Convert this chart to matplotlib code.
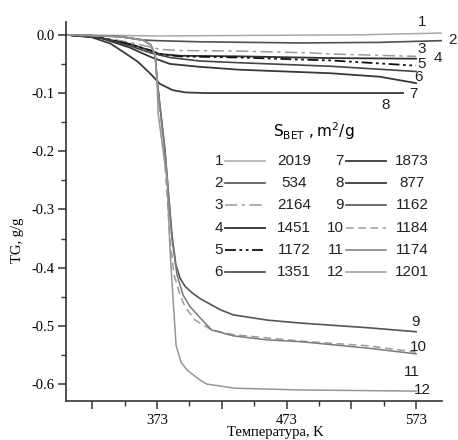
import numpy as np
import matplotlib
matplotlib.use("Agg")
from matplotlib import pyplot as plt
from matplotlib.lines import Line2D

plt.rcParams['mathtext.fontset'] = 'custom'
plt.rcParams['mathtext.rm'] = 'Liberation Sans'

# temperature (K) / mass change TG (g/g) for every sample
t1 = [303, 340, 373, 450, 530, 593]
g1 = [0.0, -0.001, -0.002, -0.001, 0.0, 0.003]
t2 = [303, 344, 363, 372, 406, 483, 545, 593]
g2 = [0.0, -0.003, -0.009, -0.010, -0.012, -0.014, -0.013, -0.010]
t3 = [303, 329, 352, 368, 375, 391, 437, 491, 507, 573]
g3 = [0.0, -0.004, -0.013, -0.021, -0.025, -0.027, -0.028, -0.031, -0.033, -0.037]
t4 = [303, 329, 352, 368, 375, 391, 437, 507, 573]
g4 = [0.0, -0.005, -0.016, -0.027, -0.033, -0.036, -0.037, -0.040, -0.041]
t5 = [303, 329, 352, 368, 375, 391, 437, 491, 507, 573]
g5 = [0.0, -0.005, -0.016, -0.027, -0.033, -0.037, -0.039, -0.043, -0.044, -0.053]
t6 = [303, 329, 352, 368, 383, 406, 437, 507, 573]
g6 = [0.0, -0.005, -0.019, -0.031, -0.039, -0.045, -0.048, -0.054, -0.063]
t7 = [303, 329, 352, 368, 383, 406, 437, 507, 545, 573]
g7 = [0.0, -0.005, -0.022, -0.038, -0.050, -0.055, -0.060, -0.066, -0.072, -0.083]
t8 = [303, 321, 337, 348, 358, 368, 375, 385, 395, 410, 563]
g8 = [0.0, -0.003, -0.015, -0.031, -0.046, -0.067, -0.084, -0.095, -0.099, -0.100, -0.100]
t9 = [303, 344, 362, 368, 371.5, 373, 379, 384.6, 387.5, 390.8, 394.6, 400, 406.2, 421.6, 431.7, 458, 483, 535, 573]
g9 = [0.0, -0.003, -0.009, -0.017, -0.034, -0.077, -0.198, -0.345, -0.395, -0.418, -0.432, -0.443,
      -0.453, -0.472, -0.481, -0.490, -0.495, -0.503, -0.510]
t10 = [303, 344, 362, 368, 371.5, 373, 378.4, 383, 386.1, 390.8, 394.6, 402.3, 415.2, 431.7, 483.4, 535, 573]
g10 = [0.0, -0.003, -0.009, -0.017, -0.034, -0.077, -0.198, -0.352, -0.412, -0.447, -0.467, -0.490,
       -0.507, -0.515, -0.526, -0.534, -0.545]
t11 = [303, 344, 362, 368, 371.5, 373, 379.2, 384.6, 388.4, 393.1, 398.5, 406.2, 415.2, 431.7, 457.9, 483.4, 535, 573]
g11 = [0.0, -0.003, -0.009, -0.017, -0.034, -0.077, -0.198, -0.352, -0.412, -0.447, -0.467, -0.486,
       -0.507, -0.517, -0.524, -0.527, -0.538, -0.548]
t12 = [303, 344, 362, 368, 371.5, 373, 373.8, 380.7, 383, 385.4, 387.7, 391.5, 396.2, 406.2, 411.6, 433.2, 483.4, 573]
g12 = [0.0, -0.003, -0.009, -0.017, -0.034, -0.077, -0.134, -0.249, -0.369, -0.455, -0.533, -0.562,
       -0.576, -0.593, -0.600, -0.607, -0.610, -0.612]

curve_ids = ['1', '2', '3', '4', '5', '6', '7', '8', '9', '10', '11', '12']
s_bet = ['2019', '534', '2164', '1451', '1172', '1351', '1873', '877', '1162', '1184', '1174', '1201']
temps = [t1, t2, t3, t4, t5, t6, t7, t8, t9, t10, t11, t12]
tgs = [g1, g2, g3, g4, g5, g6, g7, g8, g9, g10, g11, g12]

# curve number labels next to the line ends (T, TG)
lab_t = [577.6, 600.8, 577.6, 589.5, 577.6, 574.5, 570.7, 549.8, 572.3, 574.5, 570, 577.6]
lab_g = [0.022, -0.009, -0.025, -0.039, -0.050, -0.073, -0.101, -0.121, -0.493, -0.536, -0.579, -0.610]

colors = ['#a8a8a8', '#505050', '#9a9a9a', '#303030', '#101010', '#454545',
          '#383838', '#3a3a3a', '#555555', '#9a9a9a', '#7a7a7a', '#969696']
styles = ['-', '-', (0, (8, 3, 2, 3)), '-', (0, (6, 2, 1.5, 2, 1.5, 2)), '-',
          '-', '-', '-', (0, (5, 3)), '-', '-']
widths = [1.1, 1.2, 1.1, 1.3, 1.3, 1.2, 1.3, 1.3, 1.2, 1.1, 1.1, 1.1]

fig = plt.figure(figsize=(4.58, 4.40), dpi=100)
ax = fig.add_axes([0.1441, 0.0886, 0.8209, 0.8614])

for t, g, c, ls, lw in zip(temps, tgs, colors, styles, widths):
    ax.plot(t, g, color=c, linestyle=ls, linewidth=lw)

for name, x, y in zip(curve_ids, lab_t, lab_g):
    ax.text(x, y, name, ha='center', va='center', fontsize=11,
            family='Liberation Sans', color='#222222')

ax.set_xlim(302.7, 593)
ax.set_ylim(-0.629, 0.022)

ax.spines['top'].set_visible(False)
ax.spines['right'].set_visible(False)
for s in ['left', 'bottom']:
    ax.spines[s].set_linewidth(1.2)
    ax.spines[s].set_color('#333333')

ax.set_xticks([323, 373, 423, 473, 523, 573])
ax.set_xticklabels(['', '373', '', '473', '', '573'])
ax.set_xticks([348, 398, 448, 498, 548], minor=True)
ax.set_yticks([0.0, -0.1, -0.2, -0.3, -0.4, -0.5, -0.6])
ax.set_yticklabels(['0.0', '-0.1', '-0.2', '-0.3', '-0.4', '-0.5', '-0.6'])
ax.set_yticks([-0.05, -0.15, -0.25, -0.35, -0.45, -0.55], minor=True)
ax.tick_params(which='major', direction='out', length=6, width=1.1, color='#333333',
               labelsize=10.5, pad=2)
ax.tick_params(axis='x', which='major', pad=3)
ax.tick_params(which='minor', direction='out', length=3.5, width=1.0, color='#333333')
for lbl in ax.get_xticklabels() + ax.get_yticklabels():
    lbl.set_family('Liberation Serif')

ax.set_xlabel('Температура, K', family='Liberation Serif', fontsize=10.5)
ax.xaxis.set_label_coords(0.556, -0.066)
ax.set_ylabel('TG, g/g', family='Liberation Serif', fontsize=10.5)
ax.yaxis.set_label_coords(-0.112, 0.425)

# legend block: number, line sample, S_BET value
ax.text(0.660, 0.712, r'$\mathregular{S_{BET}\ ,m^2/g}$', transform=ax.transAxes,
        ha='center', va='center', fontsize=11)
rows_y = [0.633, 0.575, 0.517, 0.456, 0.398, 0.340]
cols = [(0.418, 0.423, 0.529, 0.606), (0.739, 0.745, 0.851, 0.920)]
for k in range(12):
    col = cols[k // 6]
    y = rows_y[k % 6]
    ax.text(col[0], y, curve_ids[k], transform=ax.transAxes, ha='right', va='center',
            fontsize=11, family='Liberation Sans', color='#222222')
    ax.add_line(Line2D([col[1], col[2]], [y, y], transform=ax.transAxes,
                       color=colors[k], linestyle=styles[k], linewidth=widths[k]))
    ax.text(col[3], y, s_bet[k], transform=ax.transAxes, ha='center', va='center',
            fontsize=11, family='Liberation Sans', color='#222222')

fig.savefig('out.png', dpi=100)
